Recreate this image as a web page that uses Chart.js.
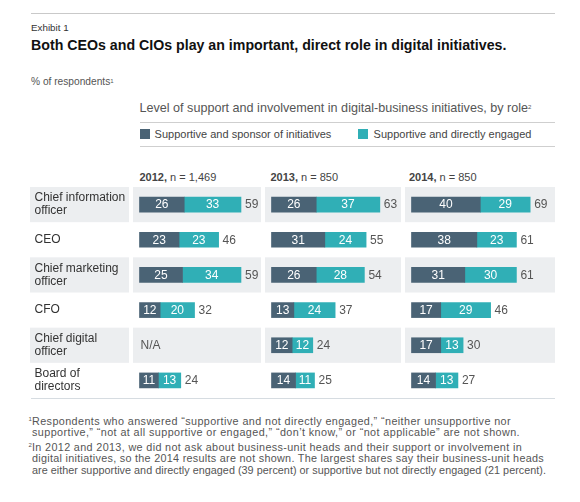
<!DOCTYPE html>
<html>
<head>
<meta charset="utf-8">
<script src="https://cdn.jsdelivr.net/npm/chart.js@4.4.1/dist/chart.umd.min.js"></script>
<style>
  body { margin: 0; background: #fff; font-family: "Liberation Sans", Arial, Helvetica, sans-serif; }
  #page { position: relative; width: 580px; height: 502px; overflow: hidden; }
  .t { position: absolute; white-space: nowrap; }
  .rule { position: absolute; height: 1px; }
  .sq { position: absolute; width: 10px; height: 10px; }
  canvas { position: absolute; }
  sup { font-size: 6px; vertical-align: top; position: relative; top: -1px; }
  .fn { position: absolute; left: 32px; font-size: 10.8px; line-height: 11.3px; color: #555; white-space: nowrap; }
  .fn span.l { display: table; }
  .fn .mk { position: absolute; left: -3.5px; top: -2px; font-size: 6px; }
</style>
</head>
<body>
<div id="page">
  <div class="rule" style="top:13px;left:31px;width:524px;background:#c9c9c9"></div>
  <div class="t" style="top:22px;left:31px;font-size:9.8px;line-height:12px;color:#333">Exhibit 1</div>
  <div class="t" style="top:37px;left:31px;font-size:14.2px;line-height:16px;font-weight:bold;color:#111">Both CEOs and CIOs play an important, direct role in digital initiatives.</div>
  <div class="t" style="top:76px;left:31px;font-size:10.2px;line-height:12px;color:#555">% of respondents<sup>1</sup></div>

  <div class="t" style="top:100px;left:139.5px;font-size:12.6px;line-height:16px;color:#555">Level of support and involvement in digital-business initiatives, by role<sup>2</sup></div>
  <div class="rule" style="top:122px;left:139.5px;width:415.5px;background:#cfcfcf"></div>
  <div class="sq" id="sq1" style="top:129px;left:140px"></div>
  <div class="t" style="top:127px;left:154.6px;font-size:11px;line-height:14px;color:#444">Supportive and sponsor of initiatives</div>
  <div class="sq" id="sq2" style="top:129px;left:358px"></div>
  <div class="t" style="top:127px;left:373.6px;font-size:11px;line-height:14px;color:#444">Supportive and directly engaged</div>
  <div class="rule" style="top:146px;left:139.5px;width:415.5px;background:#cfcfcf"></div>

  <div class="t" id="h0" style="top:170px;left:139.5px;font-size:11px;line-height:14px;color:#444"></div>
  <div class="t" id="h1" style="top:170px;left:270.5px;font-size:11px;line-height:14px;color:#444"></div>
  <div class="t" id="h2" style="top:170px;left:409px;font-size:11px;line-height:14px;color:#444"></div>

  <canvas id="c2012" width="231" height="211" style="left:30px;top:187px;width:231px;height:211px"></canvas>
  <canvas id="c2013" width="136" height="211" style="left:265px;top:187px;width:136px;height:211px"></canvas>
  <canvas id="c2014" width="150" height="211" style="left:405px;top:187px;width:150px;height:211px"></canvas>

  <div class="rule" style="top:398px;left:31px;width:524px;background:#d6dce1"></div>

  <div class="fn" style="top:416px"><span class="mk">1</span>
    <span class="l" data-w="479">Respondents who answered “supportive and not directly engaged,” “neither unsupportive nor</span>
    <span class="l" data-w="488">supportive,” “not at all supportive or engaged,” “don’t know,” or “not applicable” are not shown.</span>
  </div>
  <div class="fn" style="top:442px"><span class="mk">2</span>
    <span class="l" data-w="490">In 2012 and 2013, we did not ask about business-unit heads and their support or involvement in</span>
    <span class="l" data-w="512">digital initiatives, so the 2014 results are not shown. The largest shares say their business-unit heads</span>
    <span class="l" data-w="514">are either supportive and directly engaged (39 percent) or supportive but not directly engaged (21 percent).</span>
  </div>
</div>

<script>
// Categorias (funções) e séries
const funcoes = [
    ['Chief information', 'officer'],
    'CEO',
    ['Chief marketing', 'officer'],
    'CFO',
    ['Chief digital', 'officer'],
    ['Board of', 'directors']
];
const anos = ['2012', '2013', '2014'];
const amostras = ['n = 1,469', 'n = 850', 'n = 850'];
const nomesSeries = ['Supportive and sponsor of initiatives', 'Supportive and directly engaged'];

const patrocinador2012 = [26, 23, 25, 12, null, 11];
const engajado2012 = [33, 23, 34, 20, null, 13];
const total2012 = [59, 46, 59, 32, null, 24];

const patrocinador2013 = [26, 31, 26, 13, 12, 14];
const engajado2013 = [37, 24, 28, 24, 12, 11];
const total2013 = [63, 55, 54, 37, 24, 25];

const patrocinador2014 = [40, 38, 31, 17, 17, 14];
const engajado2014 = [29, 23, 30, 29, 13, 13];
const total2014 = [69, 61, 61, 46, 30, 27];

const linhasComFaixa = [0, 2, 4];

const COR_ESCURA = '#4a6375';
const COR_TEAL = '#30afb6';
const COR_FAIXA = '#eceef0';
const PX_POR_PONTO = 1.72;
const RECUO_BARRA = 6.5;
const FONTE = '"Liberation Sans", Arial, Helvetica, sans-serif';

document.getElementById('sq1').style.background = COR_ESCURA;
document.getElementById('sq2').style.background = COR_TEAL;
anos.forEach((ano, i) => {
    document.getElementById('h' + i).innerHTML = '<b>' + ano + ',</b> ' + amostras[i];
});

// Notas de rodapé: ajustar o espaçamento das letras para a largura de cada linha
document.querySelectorAll('.fn span.l').forEach(linha => {
    const alvo = parseFloat(linha.dataset.w);
    const natural = linha.getBoundingClientRect().width;
    const n = linha.textContent.length;
    if (natural < alvo && n > 1) {
        linha.style.letterSpacing = ((alvo - natural) / n) + 'px';
    }
});

// Faixas cinzas atrás das linhas alternadas (antes dos eixos)
const pluginFaixas = {
    id: 'faixas',
    beforeDraw(chart, args, opts) {
        const { ctx, chartArea, scales } = chart;
        const y = scales.y;
        const passo = y.getPixelForValue(1) - y.getPixelForValue(0);
        ctx.save();
        ctx.fillStyle = COR_FAIXA;
        linhasComFaixa.forEach(i => {
            const topo = y.getPixelForValue(i) - passo / 2;
            ctx.fillRect(chartArea.left, topo, chartArea.right - chartArea.left, passo);
            if (opts.comRotulos) {
                ctx.fillRect(0, topo, chartArea.left - 4, passo);
            }
        });
        ctx.restore();
    }
};

// Valores dentro das barras, totais e N/A
const pluginValores = {
    id: 'valores',
    afterDatasetsDraw(chart, args, opts) {
        const { ctx, scales } = chart;
        const totais = opts.totais;
        ctx.save();
        ctx.font = '12px ' + FONTE;
        ctx.textBaseline = 'middle';
        totais.forEach((total, i) => {
            const yc = scales.y.getPixelForValue(i);
            if (total === null) {
                ctx.fillStyle = '#555';
                ctx.textAlign = 'left';
                ctx.fillText('N/A', scales.x.getPixelForValue(0) + 1, yc + 0.5);
                return;
            }
            let fim = 0;
            chart.data.datasets.forEach((ds, d) => {
                const el = chart.getDatasetMeta(d).data[i];
                const p = el.getProps(['x', 'base', 'y'], true);
                ctx.fillStyle = '#fff';
                ctx.textAlign = 'center';
                ctx.fillText(String(ds.data[i]), (p.x + p.base) / 2, p.y + 0.5);
                fim = Math.max(fim, p.x);
            });
            ctx.fillStyle = '#555';
            ctx.textAlign = 'left';
            ctx.fillText(String(total), fim + 4, yc + 0.5);
        });
        ctx.restore();
    }
};

function criarPainel(id, patrocinador, engajado, totais, comRotulos) {
    const canvas = document.getElementById(id);
    const larguraPainel = comRotulos ? canvas.width - 103 : canvas.width;
    const minX = -RECUO_BARRA / PX_POR_PONTO;
    const maxX = larguraPainel / PX_POR_PONTO + minX;

    const eixoY = {
        stacked: true,
        display: comRotulos,
        grid: { display: false },
        border: { display: false },
        ticks: {
            autoSkip: false,
            crossAlign: 'far',
            color: '#333',
            font: { family: FONTE, size: 12, lineHeight: 1.09 }
        }
    };
    if (comRotulos) {
        // largura fixa da coluna de rótulos, sem folga em cima/embaixo
        eixoY.afterFit = (scale) => {
            scale.width = 98.5;
            scale.paddingTop = 0;
            scale.paddingBottom = 0;
        };
    }

    new Chart(canvas.getContext('2d'), {
        type: 'bar',
        data: {
            labels: funcoes,
            datasets: [{
                label: nomesSeries[0],
                data: patrocinador,
                backgroundColor: COR_ESCURA,
                barThickness: 15
            }, {
                label: nomesSeries[1],
                data: engajado,
                backgroundColor: COR_TEAL,
                barThickness: 15
            }]
        },
        options: {
            indexAxis: 'y',
            responsive: false,
            animation: false,
            layout: { padding: { left: comRotulos ? 4.5 : 0, right: 0, top: 0, bottom: 0 } },
            scales: {
                x: { stacked: true, display: false, min: minX, max: maxX },
                y: eixoY
            },
            plugins: {
                legend: { display: false },
                tooltip: { enabled: false },
                faixas: { comRotulos: comRotulos },
                valores: { totais: totais }
            }
        },
        plugins: [pluginFaixas, pluginValores]
    });
}

criarPainel('c2012', patrocinador2012, engajado2012, total2012, true);
criarPainel('c2013', patrocinador2013, engajado2013, total2013, false);
criarPainel('c2014', patrocinador2014, engajado2014, total2014, false);
</script>
</body>
</html>
